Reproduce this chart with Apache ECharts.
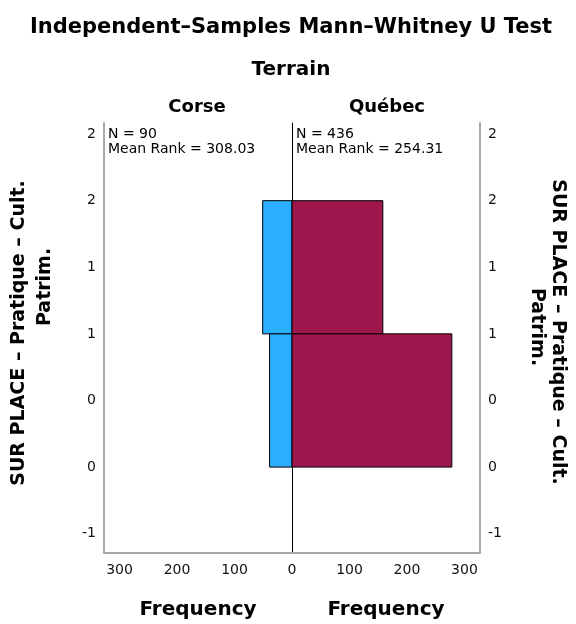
<!DOCTYPE html>
<html><head><meta charset="utf-8">
<script src="https://cdn.jsdelivr.net/npm/echarts@6/dist/echarts.min.js"></script>
<style>html,body{margin:0;padding:0;background:#fff}#c{width:576px;height:624px}</style>
</head><body><div id="c"></div>
<script>
const groups = ['Corse', 'Québec'];
const binValues = [1, 0];
const corseFreq = [51, 39];
const quebecFreq = [158, 278];
const groupN = [90, 436];
const meanRanks = ['308.03', '254.31'];
const yTickValues = [2, 1.5, 1, 0.5, 0, -0.5, -1];
const yTickLabels = ['2', '2', '1', '1', '0', '0', '-1'];
const xTickLeft = [0, 100, 200, 300];
const xTickRight = [100, 200, 300];
const mainTitle = 'Independent–Samples Mann–Whitney U Test';
const subTitle = 'Terrain';
const yNameLine1 = 'SUR PLACE – Pratique – Cult.';
const yNameLine2 = 'Patrim.';
const xName = 'Frequency';

const FONT = 'DejaVu Sans';
const GRAY = '#a8a8a8';
const colors = ['#2aaeff', '#9e174c'];

const chart = echarts.init(document.getElementById('c'), null, {renderer: 'canvas'});

function makeRender(color) {
  return function (params, api) {
    const cnt = api.value(0), v = api.value(1);
    const a = api.coord([0, v + 0.5]);
    const b = api.coord([cnt, v - 0.5]);
    return {
      type: 'rect',
      shape: {
        x: Math.min(a[0], b[0]), y: Math.min(a[1], b[1]),
        width: Math.abs(b[0] - a[0]), height: Math.abs(b[1] - a[1])
      },
      style: {fill: color, stroke: '#000', lineWidth: 1}
    };
  };
}

const yLabelFmt = v => {
  const i = yTickValues.findIndex(t => Math.abs(t - v) < 1e-9);
  return i >= 0 ? yTickLabels[i] : '';
};

const yMin = -1.145, yMax = 2.083, xMax = 327;
const tickLabelStyle = {color: '#111', fontFamily: FONT, fontSize: 14};

const option = {
  backgroundColor: '#fff',
  animation: false,
  grid: [
    {left: 104, width: 188, top: 123, height: 430, outerBoundsMode: 'none', containLabel: false},
    {left: 292, width: 188, top: 123, height: 430, outerBoundsMode: 'none', containLabel: false}
  ],
  xAxis: [
    {
      gridIndex: 0, type: 'value', min: 0, max: xMax, inverse: true,
      axisLine: {onZero: false, lineStyle: {color: GRAY, width: 2}},
      axisTick: {show: false}, splitLine: {show: false},
      axisLabel: Object.assign({customValues: xTickLeft, margin: 10}, tickLabelStyle),
      name: xName, nameLocation: 'middle', nameGap: 47,
      nameTextStyle: {fontFamily: FONT, fontWeight: 'bold', fontSize: 20, color: '#000'}
    },
    {
      gridIndex: 1, type: 'value', min: 0, max: xMax,
      axisLine: {onZero: false, lineStyle: {color: GRAY, width: 2}},
      axisTick: {show: false}, splitLine: {show: false},
      axisLabel: Object.assign({customValues: xTickRight, margin: 10}, tickLabelStyle),
      name: xName, nameLocation: 'middle', nameGap: 47,
      nameTextStyle: {fontFamily: FONT, fontWeight: 'bold', fontSize: 20, color: '#000'}
    }
  ],
  yAxis: [
    {
      gridIndex: 0, type: 'value', position: 'left', min: yMin, max: yMax,
      axisLine: {show: true, onZero: false, lineStyle: {color: GRAY, width: 2}},
      axisTick: {show: false}, splitLine: {show: false},
      axisLabel: Object.assign({customValues: yTickValues, formatter: yLabelFmt, margin: 8, padding: [6, 0, 0, 0]}, tickLabelStyle)
    },
    {
      gridIndex: 0, type: 'value', position: 'right', min: yMin, max: yMax,
      axisLine: {show: true, onZero: false, lineStyle: {color: '#000', width: 1}},
      axisTick: {show: false}, splitLine: {show: false}, axisLabel: {show: false}
    },
    {
      gridIndex: 1, type: 'value', position: 'right', min: yMin, max: yMax,
      axisLine: {show: true, onZero: false, lineStyle: {color: GRAY, width: 2}},
      axisTick: {show: false}, splitLine: {show: false},
      axisLabel: Object.assign({customValues: yTickValues, formatter: yLabelFmt, margin: 8, padding: [6, 0, 0, 0]}, tickLabelStyle)
    }
  ],
  series: [
    {
      type: 'custom', name: groups[0], xAxisIndex: 0, yAxisIndex: 0,
      renderItem: makeRender(colors[0]),
      data: binValues.map((v, i) => [corseFreq[i], v])
    },
    {
      type: 'custom', name: groups[1], xAxisIndex: 1, yAxisIndex: 2,
      renderItem: makeRender(colors[1]),
      data: binValues.map((v, i) => [quebecFreq[i], v])
    }
  ],
  graphic: [
    {type: 'text', x: 291, y: 28, style: {text: mainTitle, font: 'bold 21px ' + FONT, fill: '#000', textAlign: 'center', textVerticalAlign: 'middle'}},
    {type: 'text', x: 291, y: 70, style: {text: subTitle, font: 'bold 20px ' + FONT, fill: '#000', textAlign: 'center', textVerticalAlign: 'middle'}},
    {type: 'text', x: 197, y: 107, style: {text: groups[0], font: 'bold 18px ' + FONT, fill: '#000', textAlign: 'center', textVerticalAlign: 'middle'}},
    {type: 'text', x: 387, y: 107, style: {text: groups[1], font: 'bold 18px ' + FONT, fill: '#000', textAlign: 'center', textVerticalAlign: 'middle'}},
    {type: 'text', x: 108, y: 127, style: {text: 'N = ' + groupN[0] + '\nMean Rank = ' + meanRanks[0], font: '14px ' + FONT, lineHeight: 15, fill: '#000'}},
    {type: 'text', x: 296, y: 127, style: {text: 'N = ' + groupN[1] + '\nMean Rank = ' + meanRanks[1], font: '14px ' + FONT, lineHeight: 15, fill: '#000'}},
    {type: 'text', x: 19, y: 333, rotation: Math.PI / 2, style: {text: yNameLine1, font: 'bold 19px ' + FONT, fill: '#000', textAlign: 'center', textVerticalAlign: 'middle'}},
    {type: 'text', x: 45, y: 287, rotation: Math.PI / 2, style: {text: yNameLine2, font: 'bold 19px ' + FONT, fill: '#000', textAlign: 'center', textVerticalAlign: 'middle'}},
    {type: 'text', x: 558, y: 332, rotation: -Math.PI / 2, style: {text: yNameLine1, font: 'bold 19px ' + FONT, fill: '#000', textAlign: 'center', textVerticalAlign: 'middle'}},
    {type: 'text', x: 537, y: 327, rotation: -Math.PI / 2, style: {text: yNameLine2, font: 'bold 19px ' + FONT, fill: '#000', textAlign: 'center', textVerticalAlign: 'middle'}}
  ]
};
chart.setOption(option);
</script></body></html>
